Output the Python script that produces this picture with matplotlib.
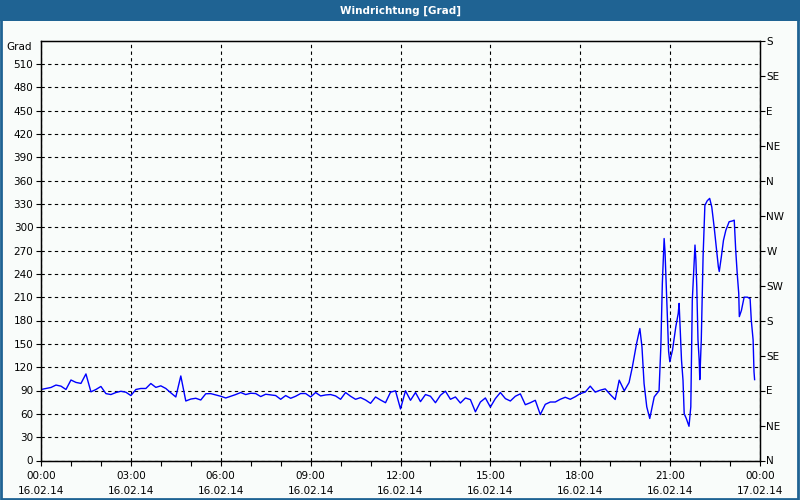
import numpy as np
import matplotlib
matplotlib.use("Agg")
import matplotlib.pyplot as plt
from matplotlib.patches import Rectangle
from matplotlib.ticker import MultipleLocator

# Wind direction readings, 10 minute steps from 00:00 (degrees)
flat_vals = [
    91.3, 92.6, 93.9, 97.0, 95.6, 91.3, 103.5, 100.4, 99.1, 111.3,
    88.3, 91.3, 95.2, 86.0, 84.8, 87.4, 89.0, 87.8, 83.5, 91.3,
    92.6, 92.6, 99.0, 94.0, 96.0, 92.6, 87.0, 81.7, 108.7, 76.5,
    79.0, 80.0, 77.8, 85.8, 86.0, 84.3, 82.6, 80.4, 82.6, 84.8,
    87.4, 84.8, 86.5, 86.1, 82.2, 85.2, 84.3, 83.5, 78.7, 83.5,
    80.0, 82.6, 86.1, 86.1, 81.7, 87.4, 83.0, 84.3, 84.8, 83.0,
    78.7, 87.4, 82.6, 78.7, 80.9, 77.8, 73.5, 81.7, 77.8, 74.3,
    87.8, 89.6, 66.3, 89.6, 77.4, 87.4, 75.7, 84.8, 82.6, 74.3,
    83.9, 89.1, 78.7, 81.7, 73.9, 80.4, 78.3, 62.6, 75.2, 80.4,
    68.7, 79.6, 87.4, 79.6, 76.5, 82.6, 85.7, 71.7, 74.3, 77.4,
    59.1, 72.2, 75.2, 75.2, 78.7, 81.3, 78.7, 82.0, 86.0, 88.0,
    95.6, 87.9, 90.4, 92.1, 84.9, 78.4,
]

# Evening part, denser readings (hours, degrees)
tail_hours = [
    19.30, 19.47, 19.63, 19.74, 19.88, 19.99, 20.06, 20.13, 20.22, 20.32,
    20.47, 20.63, 20.69, 20.74, 20.80, 20.83, 20.89, 20.95, 20.99, 21.08,
    21.19, 21.27, 21.30, 21.38, 21.43, 21.47, 21.54, 21.63, 21.69, 21.74,
    21.80, 21.83, 21.86, 21.89, 21.93, 21.97, 21.99, 22.04, 22.10, 22.16,
    22.24, 22.32, 22.39, 22.47, 22.54, 22.61, 22.64, 22.71, 22.78, 22.86,
    22.97, 23.08, 23.14, 23.19, 23.24, 23.29, 23.31, 23.38, 23.47, 23.58,
    23.67, 23.71, 23.77, 23.80, 23.82,
]
tail_vals = [
    103.3, 89.6, 100.3, 120.4, 150.4, 169.7, 146.0, 99.0, 69.0, 54.0,
    81.9, 89.6, 146.0, 227.6, 285.4, 268.0, 202.0, 140.0, 127.0, 142.0,
    172.0, 189.0, 202.0, 129.0, 103.0, 60.0, 54.0, 44.0, 69.0, 206.0,
    253.0, 277.0, 258.0, 223.0, 155.0, 129.0, 104.0, 155.0, 262.0, 328.0,
    334.0, 337.0, 326.0, 300.0, 275.0, 249.0, 243.0, 262.0, 283.0, 296.0,
    307.0, 308.0, 309.0, 270.0, 240.0, 215.0, 185.0, 193.0, 210.0, 210.0,
    208.0, 180.0, 155.0, 114.0, 104.0,
]

x_labels = ["00:00\n16.02.14", "03:00\n16.02.14", "06:00\n16.02.14",
            "09:00\n16.02.14", "12:00\n16.02.14", "15:00\n16.02.14",
            "18:00\n16.02.14", "21:00\n16.02.14", "00:00\n17.02.14"]
compass = ["N", "NE", "E", "SE", "S", "SW", "W", "NW",
           "N", "NE", "E", "SE", "S"]

hours = np.concatenate([np.arange(len(flat_vals)) / 6.0, tail_hours])
vals = np.concatenate([flat_vals, tail_vals])

bg = "#f9fcfa"
bar_blue = "#1f6393"

fig = plt.figure(figsize=(8, 5), dpi=100, facecolor=bg)
ax = fig.add_axes([41 / 800, 39.5 / 500, 719 / 800, 420 / 500])
ax.set_facecolor(bg)

ax.plot(hours, vals, color="#0000ff", lw=1.0)

ax.set_xlim(0, 24)
ax.set_ylim(0, 540)

ax.set_xticks(np.arange(0, 25, 3))
ax.set_xticklabels(x_labels, linespacing=1.6)
ax.xaxis.set_minor_locator(MultipleLocator(1))
ax.set_yticks(np.arange(0, 511, 30))
ax.tick_params(axis="both", which="major", labelsize=7.5, length=3.5,
               width=0.8, direction="out", pad=2, colors="black")
ax.tick_params(axis="x", which="minor", length=3.5, width=0.8)
ax.tick_params(axis="x", pad=4)

ax.grid(True, which="major", color="black", linestyle=(0, (3, 3)), lw=0.8)
for s in ax.spines.values():
    s.set_color("black")
    s.set_linewidth(1.0)

ax.text(-0.012, 0.985, "Grad", transform=ax.transAxes, ha="right",
        va="center", fontsize=7.5)

ax2 = ax.twinx()
ax2.set_ylim(0, 540)
ax2.set_yticks(np.arange(0, 541, 45))
ax2.set_yticklabels(compass)
ax2.tick_params(axis="y", labelsize=7.5, length=3.5, width=0.8, pad=1)

# title bar and outer frame
fig.patches.append(Rectangle((0, 479 / 500), 1, 21 / 500, transform=fig.transFigure,
                             facecolor=bar_blue, edgecolor="none", zorder=0))
fig.patches.append(Rectangle((0.001, 0.002), 0.997, 0.996, transform=fig.transFigure,
                             facecolor="none", edgecolor=bar_blue, lw=2, zorder=1))
fig.text(0.5, 489.5 / 500, "Windrichtung [Grad]", color="white", ha="center",
         va="center", fontsize=7.5, fontweight="bold")

fig.savefig("out.png", dpi=100, facecolor=bg)
